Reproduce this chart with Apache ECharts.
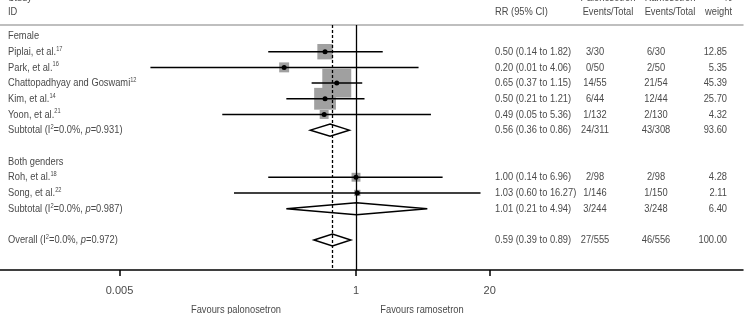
<!DOCTYPE html>
<html>
<head>
<meta charset="utf-8">
<script src="https://cdn.jsdelivr.net/npm/echarts@6/dist/echarts.min.js"></script>
<style>
  html, body { margin: 0; padding: 0; background: #fff; }
  #forest { width: 752px; height: 314px; }
</style>
</head>
<body>
<div id="forest"></div>
<script>
// rows of the table (row number from the top, blank rows are skipped)
var labelRows = [0, 1, 2, 3, 4, 5, 6, 8, 9, 10, 11, 13];
var labelNames = ['Female', 'Piplai, et al.', 'Park, et al.', 'Chattopadhyay and Goswami', 'Kim, et al.', 'Yoon, et al.', 'Subtotal',
  'Both genders', 'Roh, et al.', 'Song, et al.', 'Subtotal', 'Overall'];
var labelRefs = ['', '17', '16', '12', '14', '21', '', '', '18', '22', '', ''];

// heterogeneity for subtotal / overall rows
var hetRows = [6, 11, 13];
var hetI2 = ['0.0%', '0.0%', '0.0%'];
var hetP = ['0.931', '0.987', '0.972'];

// estimates
var estRows = [1, 2, 3, 4, 5, 6, 9, 10, 11, 13];
var estKind = ['s', 's', 's', 's', 's', 'd', 's', 's', 'd', 'd']; // s = study, d = pooled diamond
var rr = [0.50, 0.20, 0.65, 0.50, 0.49, 0.56, 1.00, 1.03, 1.01, 0.59];
var ciLow = [0.14, 0.01, 0.37, 0.21, 0.05, 0.36, 0.14, 0.065, 0.21, 0.39];
var ciHigh = [1.82, 4.06, 1.15, 1.21, 5.36, 0.86, 6.96, 16.27, 4.94, 0.89];
var weight = [12.85, 5.35, 45.39, 25.70, 4.32, 93.60, 4.28, 2.11, 6.40, 100.00];
var rrText = ['0.50 (0.14 to 1.82)', '0.20 (0.01 to 4.06)', '0.65 (0.37 to 1.15)', '0.50 (0.21 to 1.21)', '0.49 (0.05 to 5.36)',
  '0.56 (0.36 to 0.86)', '1.00 (0.14 to 6.96)', '1.03 (0.60 to 16.27)', '1.01 (0.21 to 4.94)', '0.59 (0.39 to 0.89)'];
var paloEvents = ['3/30', '0/50', '14/55', '6/44', '1/132', '24/311', '2/98', '1/146', '3/244', '27/555'];
var ramoEvents = ['6/30', '2/50', '21/54', '12/44', '2/130', '43/308', '2/98', '1/150', '3/248', '46/556'];

// x axis ticks
var tickValues = [0.005, 1, 20];
var tickLabels = ['0.005', '1', '20'];

var FONT_FAMILY = '"Liberation Sans", Arial, sans-serif';
var FONT_SIZE = 11.5;
var TEXT_COLOR = '#4a4a4a';
var FONT = FONT_SIZE + 'px ' + FONT_FAMILY;
var NARROW = 0.81; // squeeze text, no condensed font here

var rich = {
  sup: { fontSize: 7, fontFamily: FONT_FAMILY, fill: TEXT_COLOR, verticalAlign: 'top', lineHeight: 13 },
  it: { fontSize: FONT_SIZE, fontFamily: FONT_FAMILY, fontStyle: 'italic', fill: TEXT_COLOR, lineHeight: 13 }
};

function labelText(i) {
  var row = labelRows[i];
  var h = hetRows.indexOf(row);
  if (h >= 0) {
    return labelNames[i] + ' (I{sup|2}=' + hetI2[h] + ', {it|p}=' + hetP[h] + ')';
  }
  return labelNames[i] + (labelRefs[i] ? '{sup|' + labelRefs[i] + '}' : '');
}

// one custom series per text column
function textColumn(rows, texts, x, align) {
  return {
    type: 'custom',
    silent: true,
    data: rows.map(function (r) { return [1, r]; }),
    encode: { x: 0, y: 1 },
    renderItem: function (params, api) {
      var y = api.coord([1, api.value(1)])[1];
      return {
        type: 'text',
        x: x,
        y: y,
        scaleX: NARROW,
        style: {
          text: texts[params.dataIndex],
          font: FONT,
          fontSize: FONT_SIZE,
          fontFamily: FONT_FAMILY,
          fill: TEXT_COLOR,
          textAlign: align,
          textVerticalAlign: 'middle',
          rich: rich
        }
      };
    }
  };
}

var myChart = echarts.init(document.getElementById('forest'));

var forestData = estRows.map(function (r, i) {
  return [r, rr[i], ciLow[i], ciHigh[i], weight[i]];
});

function headerText(text, x, y, align) {
  return {
    type: 'text', x: x, y: y, scaleX: NARROW, silent: true,
    style: { text: text, font: FONT, fill: TEXT_COLOR, textAlign: align, textVerticalAlign: 'middle' }
  };
}

var option = {
  animation: false,
  grid: { left: 0, right: 9, top: 25, bottom: 44 },
  xAxis: [{
    type: 'log',
    logBase: 10,
    min: 0.000344,
    max: 5821,
    position: 'bottom',
    axisLine: { onZero: false, lineStyle: { color: '#000', width: 1.5 } },
    axisTick: { customValues: tickValues, length: 6, lineStyle: { color: '#000', width: 1.5 } },
    axisLabel: {
      customValues: tickValues,
      color: TEXT_COLOR,
      fontSize: 11,
      fontFamily: FONT_FAMILY,
      margin: 15,
      formatter: function (v) {
        for (var k = 0; k < tickValues.length; k++) {
          if (Math.abs(Math.log10(v) - Math.log10(tickValues[k])) < 1e-6) return tickLabels[k];
        }
        return '';
      }
    },
    splitLine: { show: false }
  }, {
    type: 'log',
    logBase: 10,
    min: 0.000344,
    max: 5821,
    position: 'top',
    axisLine: { onZero: false, lineStyle: { color: '#aaa', width: 1.5 } },
    axisTick: { show: false },
    axisLabel: { show: false },
    splitLine: { show: false }
  }],
  yAxis: {
    type: 'value',
    inverse: true,
    min: -0.7,
    max: 14.91,
    show: false
  },
  graphic: [
    headerText('Study', 8, -2, 'left'),
    headerText('ID', 8, 12, 'left'),
    headerText('RR (95% CI)', 495, 12, 'left'),
    headerText('Palonosetron', 608, -2, 'center'),
    headerText('Events/Total', 608, 12, 'center'),
    headerText('Ramosetron', 670, -2, 'center'),
    headerText('Events/Total', 670, 12, 'center'),
    headerText('%', 732, -2, 'right'),
    headerText('weight', 732, 12, 'right'),
    headerText('Favours palonosetron', 236, 310, 'center'),
    headerText('Favours ramosetron', 422, 310, 'center')
  ],
  series: [{
    type: 'custom',
    silent: true,
    data: forestData,
    encode: { x: [1, 2, 3], y: 0 },
    renderItem: function (params, api) {
      var row = api.value(0);
      var y = api.coord([1, row])[1];
      var xe = api.coord([api.value(1), row])[0];
      var xl = api.coord([api.value(2), row])[0];
      var xh = api.coord([api.value(3), row])[0];
      if (estKind[params.dataIndex] === 'd') {
        return {
          type: 'polygon',
          shape: { points: [[xl, y], [xe, y - 6], [xh, y], [xe, y + 6]] },
          style: { fill: 'none', stroke: '#000', lineWidth: 1.5 }
        };
      }
      var side = 4.3 * Math.sqrt(api.value(4));
      return {
        type: 'group',
        children: [{
          type: 'rect',
          shape: { x: xe - side / 2, y: y - side / 2, width: side, height: side },
          style: { fill: '#a0a0a0' }
        }, {
          type: 'line',
          shape: { x1: xl, y1: y, x2: xh, y2: y },
          style: { stroke: '#000', lineWidth: 1.5 }
        }, {
          type: 'circle',
          shape: { cx: xe, cy: y, r: 2.5 },
          style: { fill: '#000' }
        }]
      };
    },
    markLine: {
      silent: true,
      symbol: 'none',
      label: { show: false },
      data: [
        { xAxis: 1, lineStyle: { color: '#000', width: 1.3, type: 'solid' } },
        { xAxis: rr[rr.length - 1], lineStyle: { color: '#000', width: 1.3, type: [3, 2] } }
      ]
    }
  },
    textColumn(labelRows, labelRows.map(function (r, i) { return labelText(i); }), 8, 'left'),
    textColumn(estRows, rrText, 495, 'left'),
    textColumn(estRows, paloEvents, 595, 'center'),
    textColumn(estRows, ramoEvents, 656, 'center'),
    textColumn(estRows, weight.map(function (w) { return w.toFixed(2); }), 727, 'right')
  ]
};

myChart.setOption(option);
</script>
</body>
</html>
